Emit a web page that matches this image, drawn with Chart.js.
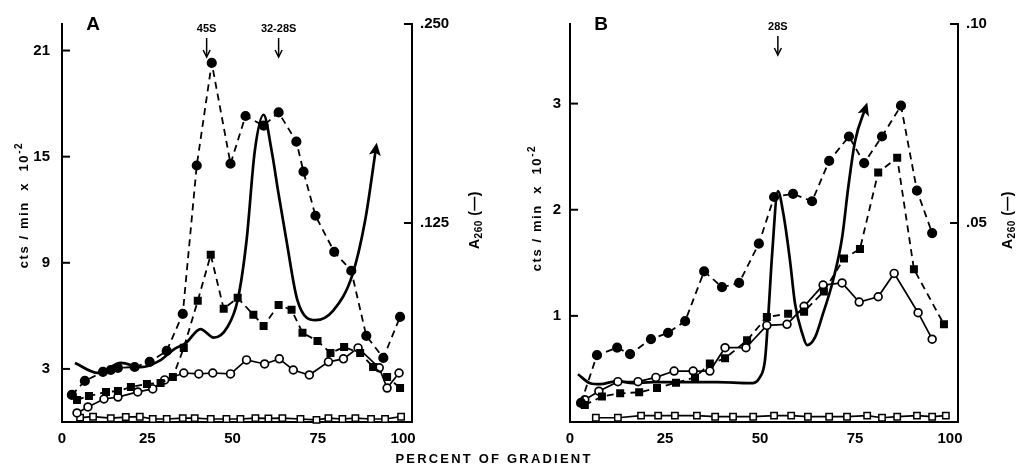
<!DOCTYPE html>
<html>
<head>
<meta charset="utf-8">
<script src="https://cdn.jsdelivr.net/npm/chart.js@4.4.0/dist/chart.umd.min.js"></script>
<style>
    body { margin: 0; background: #fff; width: 1017px; height: 469px; overflow: hidden; position: relative; }
    #chart-a { position: absolute; left: 0; top: 0; }
    #chart-b { position: absolute; left: 500px; top: 0; }
    #x-title {
        position: absolute; left: 384px; top: 451px; width: 220px; text-align: center;
        font: bold 13px "Liberation Sans", Arial, sans-serif; letter-spacing: 2.2px; white-space: nowrap;
    }
</style>
</head>
<body>
<canvas id="chart-a" width="500" height="469"></canvas>
<canvas id="chart-b" width="517" height="469"></canvas>
<div id="x-title">PERCENT OF GRADIENT</div>
<script>
// Tick values / labels
const xTicks = [0, 25, 50, 75, 100];
const aLeftTicks = [3, 9, 15, 21];
const aRightTicks = [0.125, 0.25];
const aRightTickLabels = ['.125', '.250'];
const bLeftTicks = [1, 2, 3];
const bRightTicks = [0.05, 0.10];
const bRightTickLabels = ['.05', '.10'];

// Panel A - filled circles (dashed)
const aFilledCircX = [2.9, 6.7, 12.0, 14.3, 16.4, 21.3, 25.7, 30.7, 35.4, 39.5, 43.9, 49.4, 53.8, 59.1, 63.5, 68.7, 70.8, 74.3, 79.8, 84.8, 89.2, 94.2, 99.1];
const aFilledCircY = [1.53, 2.32, 2.83, 2.94, 3.06, 3.11, 3.40, 4.02, 6.11, 14.5, 20.3, 14.6, 17.3, 16.75, 17.5, 15.85, 14.15, 11.66, 9.62, 8.55, 4.87, 3.62, 5.94];
// Panel A - filled squares (dashed)
const aFilledSqX = [4.4, 7.9, 12.9, 16.4, 20.2, 24.9, 28.9, 32.5, 35.7, 39.8, 43.6, 47.4, 51.5, 56.1, 59.1, 63.5, 67.3, 70.5, 74.9, 78.7, 82.7, 87.4, 91.2, 95.3, 99.1];
const aFilledSqY = [1.25, 1.47, 1.70, 1.75, 1.98, 2.15, 2.2, 2.55, 4.19, 6.85, 9.45, 6.40, 7.02, 6.06, 5.43, 6.62, 6.34, 5.04, 4.58, 3.90, 4.24, 3.90, 3.11, 2.55, 1.92];
// Panel A - open circles (solid)
const aOpenCircX = [4.4, 7.6, 12.3, 16.4, 22.2, 26.6, 30.1, 35.7, 40.1, 44.2, 49.4, 54.1, 59.4, 63.7, 67.8, 72.5, 78.1, 82.5, 86.8, 93.0, 95.3, 98.8];
const aOpenCircY = [0.51, 0.85, 1.30, 1.41, 1.70, 1.87, 2.38, 2.77, 2.72, 2.77, 2.72, 3.51, 3.28, 3.57, 2.94, 2.66, 3.40, 3.57, 4.19, 3.06, 1.92, 2.77];
// Panel A - open squares (solid)
const aOpenSqX = [5.3, 9.1, 14.3, 18.7, 22.8, 26.6, 30.7, 35.4, 38.9, 43.6, 48.2, 52.3, 56.7, 60.5, 64.6, 69.9, 74.6, 78.1, 82.2, 86.0, 90.6, 94.7, 99.4];
const aOpenSqY = [0.25, 0.3, 0.22, 0.28, 0.3, 0.17, 0.17, 0.22, 0.22, 0.17, 0.17, 0.17, 0.22, 0.2, 0.22, 0.17, 0.12, 0.22, 0.17, 0.22, 0.17, 0.17, 0.3];
// Panel A - A260 trace
const aA260X = [3.8, 10.5, 17.3, 23.1, 28.9, 33.0, 36.3, 40.6, 44.5, 48.5, 51.5, 54.1, 56.5, 59.1, 61.4, 63.5, 65.8, 69.0, 74.3, 79.5, 85.1, 88.9, 92.1];
const aA260Y = [0.0371, 0.0308, 0.0371, 0.0345, 0.0389, 0.046, 0.0496, 0.0584, 0.053, 0.0597, 0.0766, 0.114, 0.17, 0.193, 0.171, 0.143, 0.114, 0.0766, 0.064, 0.07, 0.0923, 0.127, 0.173];

// Panel B - filled circles (dashed)
const bFilledCircX = [2.9, 7.1, 12.4, 15.8, 21.3, 25.8, 30.3, 35.3, 40.0, 44.5, 49.7, 53.7, 58.7, 63.7, 68.2, 73.4, 77.4, 82.1, 87.1, 91.3, 95.3];
const bFilledCircY = [0.18, 0.63, 0.70, 0.64, 0.78, 0.84, 0.95, 1.42, 1.27, 1.31, 1.68, 2.12, 2.15, 2.08, 2.46, 2.69, 2.44, 2.69, 2.98, 2.18, 1.78];
// Panel B - filled squares (dashed)
const bFilledSqX = [3.9, 8.4, 13.2, 18.2, 22.9, 27.9, 32.9, 36.8, 40.8, 46.6, 51.8, 57.4, 61.6, 66.8, 72.1, 76.3, 81.1, 86.1, 90.5, 98.4];
const bFilledSqY = [0.16, 0.24, 0.27, 0.28, 0.32, 0.37, 0.42, 0.55, 0.60, 0.77, 0.99, 1.02, 1.04, 1.23, 1.54, 1.63, 2.35, 2.49, 1.44, 0.92];
// Panel B - open circles (solid)
const bOpenCircX = [3.9, 7.6, 12.6, 17.9, 22.6, 27.4, 32.4, 36.8, 40.8, 46.3, 51.8, 57.1, 61.6, 66.6, 71.6, 76.1, 81.1, 85.3, 91.6, 95.3];
const bOpenCircY = [0.21, 0.29, 0.38, 0.38, 0.42, 0.48, 0.48, 0.48, 0.70, 0.70, 0.91, 0.92, 1.09, 1.29, 1.31, 1.13, 1.18, 1.40, 1.03, 0.78];
// Panel B - open squares (solid)
const bOpenSqX = [6.8, 12.6, 18.7, 23.2, 27.6, 33.4, 38.2, 42.9, 48.2, 53.7, 58.2, 62.6, 68.2, 72.9, 78.2, 82.1, 86.1, 91.3, 95.3, 98.9];
const bOpenSqY = [0.04, 0.04, 0.06, 0.06, 0.06, 0.06, 0.05, 0.05, 0.05, 0.06, 0.06, 0.05, 0.05, 0.05, 0.06, 0.04, 0.05, 0.06, 0.05, 0.06];
// Panel B - A260 trace
const bA260X = [2.1, 5.3, 7.9, 12.4, 16.6, 21.8, 29.7, 38.7, 47.4, 50.0, 51.3, 52.1, 53.2, 54.7, 56.2, 57.9, 59.2, 61.1, 62.4, 64.5, 66.6, 69.2, 71.6, 73.2, 75.0, 77.9];
const bA260Y = [0.012, 0.00975, 0.0095, 0.0103, 0.00975, 0.01, 0.01, 0.01, 0.00975, 0.0113, 0.0155, 0.0255, 0.0423, 0.058, 0.052, 0.0405, 0.0298, 0.0223, 0.0193, 0.0213, 0.0273, 0.0355, 0.0463, 0.0588, 0.0705, 0.0793];

const FONT = '"Liberation Sans", Arial, sans-serif';
Chart.defaults.font.family = FONT;
Chart.defaults.font.weight = 'bold';
Chart.defaults.color = '#000';

const pts = (xs, ys) => xs.map((x, i) => ({ x: x, y: ys[i] }));

/**
 * Dataset helpers for the four marker styles + the absorbance trace
 */
function filledCircles(xs, ys) {
    return { data: pts(xs, ys), borderColor: '#000', borderWidth: 1.8, borderDash: [7, 5],
        pointStyle: 'circle', pointRadius: 4.2, pointBackgroundColor: '#000', pointBorderColor: '#000', tension: 0 };
}
function filledSquares(xs, ys) {
    return { data: pts(xs, ys), borderColor: '#000', borderWidth: 1.8, borderDash: [7, 5],
        pointStyle: 'rect', pointRadius: 4.4, pointBackgroundColor: '#000', pointBorderColor: '#000', tension: 0 };
}
function openCircles(xs, ys) {
    return { data: pts(xs, ys), borderColor: '#000', borderWidth: 1.7,
        pointStyle: 'circle', pointRadius: 3.9, pointBorderWidth: 1.7, pointBackgroundColor: '#fff', pointBorderColor: '#000', tension: 0 };
}
function openSquares(xs, ys) {
    return { data: pts(xs, ys), borderColor: '#000', borderWidth: 1.7,
        pointStyle: 'rect', pointRadius: 4.5, pointBorderWidth: 1.5, pointBackgroundColor: '#fff', pointBorderColor: '#000', tension: 0 };
}
function a260(xs, ys) {
    return { data: pts(xs, ys), yAxisID: 'y2', borderColor: '#000', borderWidth: 2.7, pointRadius: 0,
        cubicInterpolationMode: 'monotone' };
}

// draws inward ticks, panel letter, sedimentation markers, rotated axis titles, arrow head on A260
const decorations = {
    id: 'decorations',
    afterDraw(chart, args, o) {
        const ctx = chart.ctx;
        const ca = chart.chartArea;
        ctx.save();
        ctx.strokeStyle = '#000';
        ctx.fillStyle = '#000';
        ctx.lineWidth = 2;

        chart.scales.y.ticks.forEach(t => {
            const py = chart.scales.y.getPixelForValue(t.value);
            ctx.beginPath(); ctx.moveTo(ca.left, py); ctx.lineTo(ca.left + 8, py); ctx.stroke();
        });
        chart.scales.y2.ticks.forEach(t => {
            const py = chart.scales.y2.getPixelForValue(t.value);
            ctx.beginPath(); ctx.moveTo(ca.right, py); ctx.lineTo(ca.right - 8, py); ctx.stroke();
        });

        // panel letter
        ctx.font = 'bold 19px ' + FONT;
        ctx.textAlign = 'center';
        ctx.textBaseline = 'middle';
        ctx.fillText(o.letter, ca.left + 31, 25);

        // sedimentation markers
        ctx.font = 'bold 11px ' + FONT;
        ctx.lineWidth = 1.5;
        o.markers.forEach(m => {
            const px = chart.scales.x.getPixelForValue(m.x);
            ctx.fillText(m.text, px, o.markerY);
            ctx.beginPath(); ctx.moveTo(px, o.markerY + 9); ctx.lineTo(px, o.markerY + 27); ctx.stroke();
            ctx.beginPath();
            ctx.moveTo(px - 3.5, o.markerY + 21); ctx.lineTo(px, o.markerY + 28); ctx.lineTo(px + 3.5, o.markerY + 21);
            ctx.stroke();
        });

        // rotated titles
        o.titles.forEach(t => {
            ctx.save();
            ctx.translate(t.x, t.y);
            ctx.rotate(-Math.PI / 2);
            ctx.textAlign = 'left';
            ctx.textBaseline = 'middle';
            ctx.letterSpacing = t.spacing || '0px';
            let w = 0;
            t.parts.forEach(p => { ctx.font = 'bold ' + p.size + 'px ' + FONT; w += ctx.measureText(p.text).width; });
            let cx = -w / 2;
            t.parts.forEach(p => {
                ctx.font = 'bold ' + p.size + 'px ' + FONT;
                ctx.fillText(p.text, cx, p.dy || 0);
                cx += ctx.measureText(p.text).width;
            });
            ctx.restore();
        });

        // arrow head at end of A260 trace
        const el = chart.getDatasetMeta(4).data;
        const p = el[el.length - 1], q = el[el.length - 2];
        const ang = Math.atan2(p.y - q.y, p.x - q.x);
        ctx.translate(p.x, p.y);
        ctx.rotate(ang);
        ctx.beginPath();
        ctx.moveTo(4, 0); ctx.lineTo(-9, -6); ctx.lineTo(-6, 0); ctx.lineTo(-9, 6); ctx.closePath();
        ctx.fill();
        ctx.restore();
    }
};

/**
 * Build one panel
 */
function makePanel(id, cfg) {
    const ticksFrom = arr => scale => { scale.ticks = arr.map(v => ({ value: v })); };
    return new Chart(document.getElementById(id), {
        type: 'line',
        data: {
            datasets: [
                filledCircles(cfg.fcX, cfg.fcY),
                filledSquares(cfg.fsX, cfg.fsY),
                openCircles(cfg.ocX, cfg.ocY),
                openSquares(cfg.osX, cfg.osY),
                a260(cfg.lnX, cfg.lnY)
            ]
        },
        options: {
            responsive: false,
            animation: false,
            clip: false,
            layout: { padding: { top: 24, left: 0, right: 0, bottom: 0 } },
            plugins: { legend: { display: false }, tooltip: { enabled: false }, decorations: cfg.deco },
            scales: {
                x: {
                    type: 'linear', min: 0, max: cfg.xMax,
                    afterBuildTicks: ticksFrom(xTicks),
                    afterFit: s => { s.height = 47; },
                    grid: { display: false, drawTicks: false },
                    border: { display: true, color: '#000', width: 2 },
                    ticks: { padding: 8, font: { size: 15, weight: 'bold' } }
                },
                y: {
                    position: 'left', min: 0, max: cfg.yMax,
                    afterBuildTicks: ticksFrom(cfg.yTicks),
                    afterFit: s => { s.width = cfg.leftW; },
                    grid: { display: false, drawTicks: false },
                    border: { display: true, color: '#000', width: 2 },
                    ticks: { padding: cfg.leftPad, font: { size: 15, weight: 'bold' } }
                },
                y2: {
                    position: 'right', min: 0, max: cfg.y2Max,
                    afterBuildTicks: ticksFrom(cfg.y2Ticks),
                    afterFit: s => { s.width = cfg.rightW; },
                    grid: { display: false, drawTicks: false },
                    border: { display: true, color: '#000', width: 2 },
                    ticks: { padding: 8, font: { size: 15, weight: 'bold' }, callback: (v, i) => cfg.y2Labels[i] }
                }
            }
        },
        plugins: [decorations]
    });
}

const ctsTitle = [{ text: 'cts / min  x  10', size: 13 }, { text: '-2', size: 10, dy: -5 }];
const absTitle = [{ text: 'A', size: 14 }, { text: '260', size: 10, dy: 4 }, { text: ' (—)', size: 14 }];

makePanel('chart-a', {
    fcX: aFilledCircX, fcY: aFilledCircY, fsX: aFilledSqX, fsY: aFilledSqY,
    ocX: aOpenCircX, ocY: aOpenCircY, osX: aOpenSqX, osY: aOpenSqY, lnX: aA260X, lnY: aA260Y,
    xMax: 102.6, yMax: 22.5, yTicks: aLeftTicks, y2Max: 0.25, y2Ticks: aRightTicks, y2Labels: aRightTickLabels,
    leftW: 62, rightW: 88, leftPad: 12,
    deco: {
        letter: 'A', markerY: 29,
        markers: [{ x: 42.4, text: '45S' }, { x: 63.5, text: '32-28S' }],
        titles: [{ x: 24, y: 205, parts: ctsTitle, spacing: '1.6px' }, { x: 475, y: 220, parts: absTitle, spacing: '0.5px' }]
    }
});

makePanel('chart-b', {
    fcX: bFilledCircX, fcY: bFilledCircY, fsX: bFilledSqX, fsY: bFilledSqY,
    ocX: bOpenCircX, ocY: bOpenCircY, osX: bOpenSqX, osY: bOpenSqY, lnX: bA260X, lnY: bA260Y,
    xMax: 102.1, yMax: 3.75, yTicks: bLeftTicks, y2Max: 0.10, y2Ticks: bRightTicks, y2Labels: bRightTickLabels,
    leftW: 70, rightW: 59, leftPad: 9,
    deco: {
        letter: 'B', markerY: 27,
        markers: [{ x: 54.7, text: '28S' }],
        titles: [{ x: 37, y: 208, parts: ctsTitle, spacing: '1.6px' }, { x: 508, y: 220, parts: absTitle, spacing: '0.5px' }]
    }
});
</script>
</body>
</html>
